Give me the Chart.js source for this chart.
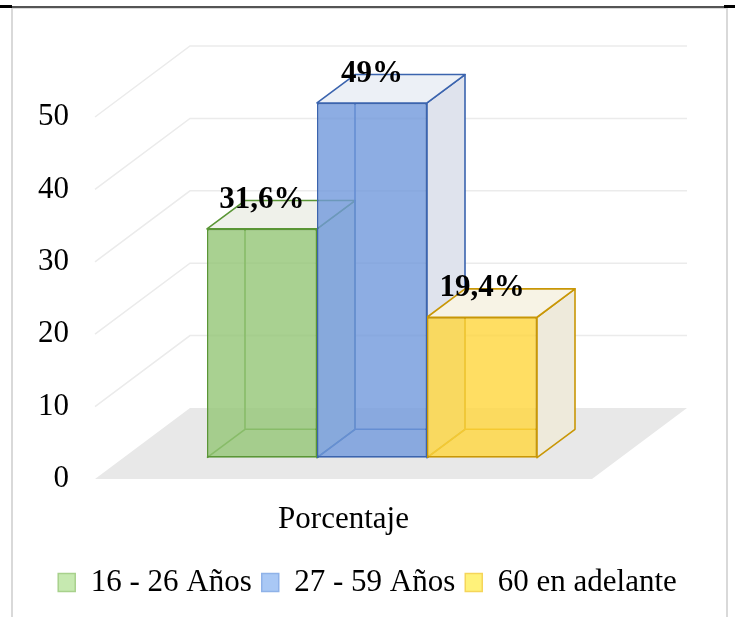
<!DOCTYPE html>
<html>
<head>
<meta charset="utf-8">
<script src="https://cdn.jsdelivr.net/npm/chart.js@4"></script>
<style>
  html, body { margin: 0; padding: 0; background: #fff; }
  #wrap { position: relative; width: 735px; height: 617px; overflow: hidden; }
  .frame { position: absolute; left: 11px; top: 7px; width: 713px; height: 640px; border: 2px solid #d9d9d9; }
  .topline { position: absolute; left: 0; top: 6px; width: 735px; height: 2px; background: #555; }
  .cap { position: absolute; top: 5px; width: 12px; height: 3px; background: #000; }
  canvas { position: absolute; left: 0; top: 0; }
</style>
</head>
<body>
<div id="wrap">
  <div class="frame"></div>
  <div class="topline"></div>
  <div class="cap" style="left:0"></div>
  <div class="cap" style="left:724px"></div>
  <canvas id="chart" width="735" height="617"></canvas>
</div>
<script>
// ── Datos ────────────────────────────────────────────────
const categorias = ['Porcentaje'];
const series     = ['16 - 26 Años', '27 - 59 Años', '60 en adelante'];
const valores    = [31.6, 49, 19.4];
const etiquetas  = ['31,6%', '49%', '19,4%'];
const ticksY     = [0, 10, 20, 30, 40, 50];

// ── Colores ──────────────────────────────────────────────
const frente  = ['rgba(148,198,118,0.8)', 'rgba(112,152,220,0.8)', 'rgba(255,214,60,0.8)'];
const borde   = ['#5a9636', '#3b64ae', '#c99706'];
const tapa    = ['#eff1ea', '#ecf0f6', '#f7f3e5'];
const lado    = ['#e2e8da', '#dfe3ed', '#eeeadb'];
const leyRell = ['#c6e9b0', '#a9c8f5', '#fff27a'];
const leyBord = ['#a8d18c', '#8fb2e8', '#f5d55a'];

const FUENTE = "'Liberation Serif', 'Times New Roman', serif";

// profundidad del piso (px) y posicion de las barras dentro de ella
const PROF = { dx: 95, dy: -71 };
const F0 = 0.3, FB = 0.4;

function cara(ctx, pts, relleno, trazo) {
  ctx.beginPath();
  ctx.moveTo(pts[0][0], pts[0][1]);
  for (let i = 1; i < pts.length; i++) ctx.lineTo(pts[i][0], pts[i][1]);
  ctx.closePath();
  if (relleno) { ctx.fillStyle = relleno; ctx.fill(); }
  if (trazo) { ctx.strokeStyle = trazo; ctx.stroke(); }
}

function geometria(el) {
  const p = el.getProps(['x', 'y', 'base', 'width'], true);
  const tx = PROF.dx * F0, ty = PROF.dy * F0;
  return {
    l: p.x - p.width / 2 + tx, r: p.x + p.width / 2 + tx,
    t: p.y + ty, b: p.base + ty,
    dx: PROF.dx * FB, dy: PROF.dy * FB, cx: p.x + tx
  };
}

const barras3d = {
  id: 'barras3d',
  beforeDatasetsDraw(chart) {
    const { ctx, chartArea: a, scales: { y } } = chart;
    const y0 = y.getPixelForValue(0);

    // piso
    cara(ctx, [[a.left, y0], [a.right, y0], [a.right + PROF.dx, y0 + PROF.dy], [a.left + PROF.dx, y0 + PROF.dy]], '#e8e8e8');

    // lineas de division (pared izquierda + fondo)
    ctx.save();
    ctx.strokeStyle = '#ebebeb';
    ctx.lineWidth = 1.5;
    y.ticks.forEach(t => {
      if (t.value === 0) return;
      const py = y.getPixelForValue(t.value);
      ctx.beginPath();
      ctx.moveTo(a.left, py);
      ctx.lineTo(a.left + PROF.dx, py + PROF.dy);
      ctx.lineTo(a.right + PROF.dx, py + PROF.dy);
      ctx.stroke();
    });
    ctx.restore();

    // caras ocultas, laterales y superiores
    ctx.save();
    ctx.lineWidth = 1.6;
    ctx.lineJoin = 'round';
    chart.data.datasets.forEach((ds, i) => {
      chart.getDatasetMeta(i).data.forEach(el => {
        const g = geometria(el);
        ctx.strokeStyle = borde[i];
        ctx.beginPath();
        ctx.moveTo(g.l, g.b);
        ctx.lineTo(g.l + g.dx, g.b + g.dy);
        ctx.lineTo(g.l + g.dx, g.t + g.dy);
        ctx.moveTo(g.l + g.dx, g.b + g.dy);
        ctx.lineTo(g.r + g.dx, g.b + g.dy);
        ctx.stroke();
        cara(ctx, [[g.r, g.t], [g.r + g.dx, g.t + g.dy], [g.r + g.dx, g.b + g.dy], [g.r, g.b]], lado[i], borde[i]);
        cara(ctx, [[g.l, g.t], [g.l + g.dx, g.t + g.dy], [g.r + g.dx, g.t + g.dy], [g.r, g.t]], tapa[i], borde[i]);
      });
    });
    ctx.restore();

    // la cara frontal la dibuja Chart.js, desplazada a media profundidad
    ctx.save();
    ctx.translate(PROF.dx * F0, PROF.dy * F0);
  },
  afterDatasetsDraw(chart) {
    const { ctx } = chart;
    ctx.restore();

    ctx.save();
    ctx.font = 'bold 31px ' + FUENTE;
    ctx.fillStyle = '#000';
    ctx.textAlign = 'center';
    ctx.textBaseline = 'middle';
    chart.data.datasets.forEach((ds, i) => {
      chart.getDatasetMeta(i).data.forEach(el => {
        const g = geometria(el);
        ctx.fillText(etiquetas[i], g.cx, g.t - 29);
      });
    });
    ctx.restore();
  }
};

new Chart(document.getElementById('chart'), {
  type: 'bar',
  data: {
    labels: categorias,
    datasets: series.map((s, i) => ({
      label: s,
      data: [valores[i]],
      backgroundColor: frente[i],
      borderColor: borde[i],
      borderWidth: 1.6,
      borderSkipped: false,
      clip: false,
      categoryPercentage: 0.664,
      barPercentage: 1.0,
    }))
  },
  options: {
    responsive: false,
    animation: false,
    layout: { padding: { top: 117, bottom: 9, left: 0, right: 0 } },
    plugins: {
      tooltip: { enabled: false },
      legend: {
        position: 'bottom',
        labels: {
          boxWidth: 17,
          boxHeight: 18,
          padding: 10,
          color: '#000',
          font: { family: FUENTE, size: 31 },
          generateLabels(chart) {
            const items = Chart.defaults.plugins.legend.labels.generateLabels(chart);
            items.forEach((it, i) => {
              it.fillStyle = leyRell[i];
              it.strokeStyle = leyBord[i];
              it.lineWidth = 1.5;
            });
            return items;
          }
        }
      }
    },
    scales: {
      x: {
        grid: { display: false },
        border: { display: false },
        ticks: { color: '#000', font: { family: FUENTE, size: 31 }, padding: 14 },
        afterFit(s) { s.height = 617 - 479 - s.chart.legend.height - 9; }
      },
      y: {
        min: ticksY[0],
        max: ticksY[ticksY.length - 1],
        grid: { display: false, drawTicks: false },
        border: { display: false },
        ticks: { stepSize: 10, color: '#000', font: { family: FUENTE, size: 31 }, padding: 26 },
        afterFit(s) { s.width = 95; }
      },
      y2: {
        position: 'right',
        grid: { display: false },
        border: { display: false },
        ticks: { display: false },
        afterFit(s) { s.width = 735 - 592; }
      }
    }
  },
  plugins: [barras3d]
});
</script>
</body>
</html>
